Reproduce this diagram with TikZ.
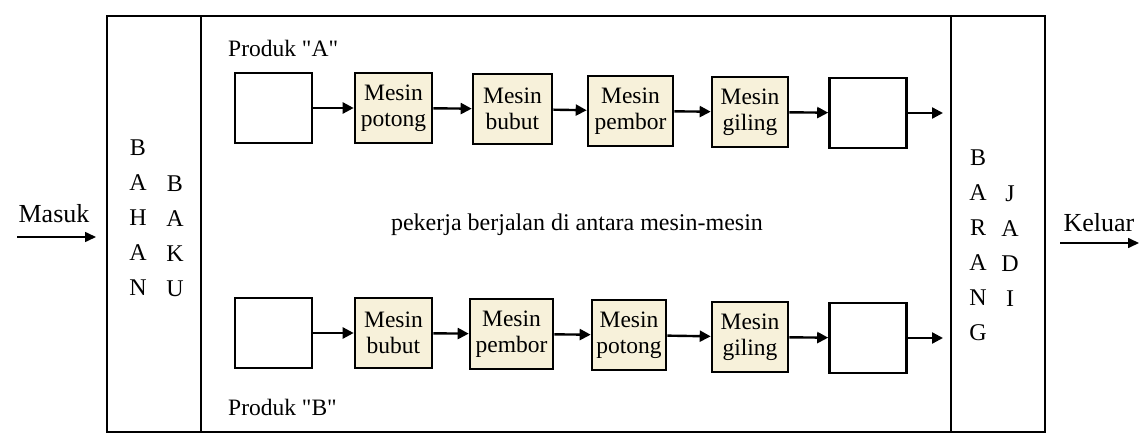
\documentclass[tikz,border=0pt]{standalone}
\usepackage{fontspec}
\setmainfont{Liberation Serif}
\usetikzlibrary{arrows.meta}
\definecolor{cream}{HTML}{F7F1DA}
\begin{document}
\begin{tikzpicture}[x=1pt,y=-1pt,
 box/.style={draw,line width=2.6pt,minimum width=77pt,minimum height=70pt,inner sep=0pt},
 mbox/.style={box,fill=cream,align=center,font=\fontsize{23.5}{26}\selectfont},
 arr/.style={-{Triangle[length=11pt,width=11pt]},line width=2.4pt},
 thin arr/.style={-{Triangle[length=11pt,width=10pt]},line width=1.6pt},
 lbl/.style={font=\fontsize{24}{26}\selectfont,inner sep=0pt},
 col/.style={font=\fontsize{24}{35}\selectfont,align=center,inner sep=0pt},
 frame/.style={line width=2pt}]
\useasboundingbox (0,0) rectangle (1143,435);
\draw[frame] (107,16) rectangle (1045,432);
\draw[frame] (201,16) -- (201,432);
\draw[frame] (951,16) -- (951,432);

\node[lbl,anchor=west,font=\fontsize{23.5}{26}\selectfont] (pa) at (228,48) {Produk \textquotedbl A\textquotedbl};
\node[lbl,anchor=west,font=\fontsize{23.5}{26}\selectfont] (pb) at (228,407) {Produk \textquotedbl B\textquotedbl};
\node[lbl] (mid) at (577,225) {pekerja berjalan di antara mesin-mesin};

% top row
\node[box] (a0) at (273.5,108) {};
\node[mbox,minimum width=77pt] (a1) at (393.5,108) {Mesin\\potong};
\node[mbox,minimum width=79pt] (a2) at (512.5,109) {Mesin\\bubut};
\node[mbox,minimum width=85pt] (a3) at (630.5,111) {Mesin\\pembor};
\node[mbox,minimum width=76pt] (a4) at (750,112) {Mesin\\giling};
\node[box] (a5) at (868,113) {};
\coordinate (aout) at (943,113);
\draw[arr] (a0) -- (a1);
\draw[arr] (a1) -- (a2);
\draw[arr] (a2) -- (a3);
\draw[arr] (a3) -- (a4);
\draw[arr] (a4) -- (a5);
\draw[arr] (a5.east) -- (aout);

% bottom row
\node[box] (b0) at (273.5,333) {};
\node[mbox,minimum width=77pt] (b1) at (393.5,333) {Mesin\\bubut};
\node[mbox,minimum width=83pt] (b2) at (511.5,334) {Mesin\\pembor};
\node[mbox,minimum width=74pt] (b3) at (629,335) {Mesin\\potong};
\node[mbox,minimum width=76pt] (b4) at (750,337) {Mesin\\giling};
\node[box] (b5) at (868,338) {};
\coordinate (bout) at (943,338);
\draw[arr] (b0) -- (b1);
\draw[arr] (b1) -- (b2);
\draw[arr] (b2) -- (b3);
\draw[arr] (b3) -- (b4);
\draw[arr] (b4) -- (b5);
\draw[arr] (b5.east) -- (bout);

% side columns
\node[col] (bahan) at (138,218) {B\\A\\H\\A\\N};
\node[col] (baku) at (175,236) {B\\A\\K\\U};
\node[col] (barang) at (978,245) {B\\A\\R\\A\\N\\G};
\node[col] (jadi) at (1010,246) {J\\A\\D\\I};

% in / out
\node[lbl,font=\fontsize{26}{28}\selectfont] (masuk) at (54,214) {Masuk};
\coordinate (min) at (17,237);
\coordinate (mout) at (96,237);
\draw[thin arr] (min) -- (mout);
\node[lbl,font=\fontsize{26}{28}\selectfont] (keluar) at (1099,223) {Keluar};
\coordinate (kin) at (1060,243);
\coordinate (kout) at (1139,243);
\draw[thin arr] (kin) -- (kout);
\end{tikzpicture}
\end{document}
